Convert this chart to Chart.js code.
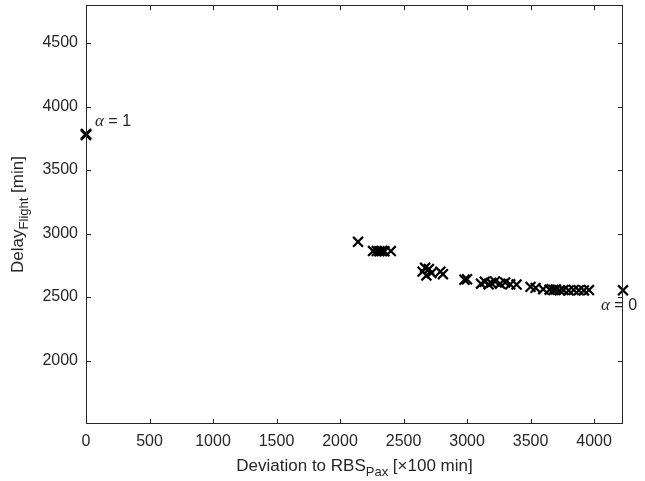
<!DOCTYPE html>
<html>
<head>
<meta charset="utf-8">
<script src="https://cdn.jsdelivr.net/npm/chart.js@4"></script>
<style>
  html, body { margin: 0; padding: 0; background: #fff; }
  canvas { display: block; }
</style>
</head>
<body>
<canvas id="chart" width="645" height="481"></canvas>
<script>
// data
const deviation = [0, 0, 0,
  2142, 2260, 2290, 2310, 2330, 2350, 2400,
  2650, 2670, 2680, 2700, 2720, 2790, 2810,
  2980, 3000,
  3110, 3140, 3170, 3190, 3220, 3260, 3300, 3340, 3390,
  3500, 3540, 3600, 3650, 3680, 3700, 3730, 3760, 3800, 3840, 3880, 3920, 3960,
  4228];
const delay = [3780, 3775, 3785,
  2935, 2862, 2862, 2860, 2862, 2860, 2862,
  2700, 2730, 2670, 2720, 2690, 2700, 2680,
  2636, 2640,
  2605, 2620, 2600, 2612, 2622, 2605, 2615, 2600, 2598,
  2580, 2572, 2562, 2558, 2555, 2560, 2553, 2555, 2552, 2556, 2553, 2552, 2555,
  2553];
const xTicks = [0, 500, 1000, 1500, 2000, 2500, 3000, 3500, 4000];
const yTicks = [2000, 2500, 3000, 3500, 4000, 4500];
const labels = [
  { text: "1", at: [0, 3780], dx: 9, dy: -9 },
  { text: "0", at: [4228, 2553], dx: -22, dy: 20 }
];

const ink = "#262626";
const sans = "'Liberation Sans', Arial, sans-serif";

// box, inward ticks, axis titles, alpha labels
const decor = {
  id: "decor",
  afterDatasetsDraw(c) {
    const ctx = c.ctx, a = c.chartArea, sx = c.scales.x, sy = c.scales.y;
    ctx.save();
    ctx.strokeStyle = ink;
    ctx.lineWidth = 1;
    ctx.strokeRect(a.left + 0.5, a.top + 0.5, a.right - a.left - 1, a.bottom - a.top - 1);
    ctx.beginPath();
    xTicks.forEach(v => {
      const px = Math.round(sx.getPixelForValue(v)) + 0.5;
      ctx.moveTo(px, a.bottom); ctx.lineTo(px, a.bottom - 5);
      ctx.moveTo(px, a.top); ctx.lineTo(px, a.top + 5);
    });
    yTicks.forEach(v => {
      const py = Math.round(sy.getPixelForValue(v)) + 0.5;
      ctx.moveTo(a.left, py); ctx.lineTo(a.left + 5, py);
      ctx.moveTo(a.right, py); ctx.lineTo(a.right - 5, py);
    });
    ctx.stroke();

    ctx.fillStyle = ink;
    ctx.textBaseline = "alphabetic";
    // x title
    const parts = [["Deviation to RBS", 17, 0], ["Pax", 13, 5], [" [\u00d7100 min]", 17, 0]];
    let w = 0;
    parts.forEach(p => { ctx.font = p[1] + "px " + sans; w += ctx.measureText(p[0]).width; });
    let x = (a.left + a.right) / 2 - w / 2;
    parts.forEach(p => {
      ctx.font = p[1] + "px " + sans;
      ctx.fillText(p[0], x, 471 + p[2]);
      x += ctx.measureText(p[0]).width;
    });
    // y title
    ctx.save();
    ctx.translate(23, (a.top + a.bottom) / 2);
    ctx.rotate(-Math.PI / 2);
    const yp = [["Delay", 17, 0], ["Flight", 13, 5], [" [min]", 17, 0]];
    w = 0;
    yp.forEach(p => { ctx.font = p[1] + "px " + sans; w += ctx.measureText(p[0]).width; });
    x = -w / 2;
    yp.forEach(p => {
      ctx.font = p[1] + "px " + sans;
      ctx.fillText(p[0], x, p[2]);
      x += ctx.measureText(p[0]).width;
    });
    ctx.restore();

    // alpha labels
    labels.forEach(l => {
      let px = sx.getPixelForValue(l.at[0]) + l.dx;
      const py = sy.getPixelForValue(l.at[1]) + l.dy;
      ctx.font = "italic 17px 'Liberation Serif', 'Times New Roman', serif";
      ctx.fillText("\u03b1", px, py);
      px += ctx.measureText("\u03b1").width;
      ctx.font = "16px " + sans;
      ctx.fillText(" = " + l.text, px, py);
    });
    ctx.restore();
  }
};

new Chart(document.getElementById("chart"), {
  type: "scatter",
  data: {
    datasets: [{
      data: deviation.map((d, i) => ({ x: d, y: delay[i] })),
      pointStyle: "crossRot",
      pointRadius: 7,
      pointBorderWidth: 2.2,
      borderColor: "#000",
      backgroundColor: "#000",
      clip: false
    }]
  },
  options: {
    responsive: false,
    animation: false,
    devicePixelRatio: 1,
    layout: { autoPadding: false, padding: { left: 0, top: 5, right: 22, bottom: 0 } },
    plugins: { legend: { display: false }, tooltip: { enabled: false } },
    scales: {
      x: {
        type: "linear",
        min: 0, max: 4228,
        grid: { display: false, drawTicks: false },
        border: { display: false },
        afterBuildTicks: s => { s.ticks = xTicks.map(v => ({ value: v })); },
        afterFit: s => { s.height = 57; s.paddingLeft = 0; s.paddingRight = 0; },
        ticks: { color: ink, font: { family: sans, size: 16 }, padding: 8, maxRotation: 0,
                 autoSkip: false, callback: v => String(v) }
      },
      y: {
        min: 1500, max: 4800,
        grid: { display: false, drawTicks: false },
        border: { display: false },
        afterBuildTicks: s => { s.ticks = yTicks.map(v => ({ value: v })); },
        afterFit: s => { s.width = 86; s.paddingTop = 0; s.paddingBottom = 0; },
        ticks: { color: ink, font: { family: sans, size: 16 }, padding: 8,
                 autoSkip: false, callback: v => String(v) }
      }
    }
  },
  plugins: [decor]
});
</script>
</body>
</html>
